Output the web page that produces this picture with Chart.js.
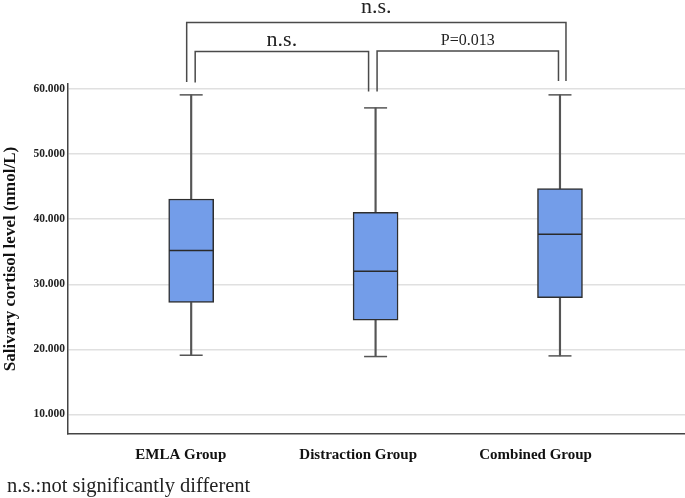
<!DOCTYPE html>
<html>
<head>
<meta charset="utf-8">
<script src="https://cdn.jsdelivr.net/npm/chart.js@4.4.0/dist/chart.umd.min.js"></script>
<style>
  html, body { margin: 0; padding: 0; background: #ffffff; }
  #wrap { position: relative; width: 685px; height: 498px; }
  #foot { position: absolute; left: 7px; top: 475px; font-family: 'Liberation Serif', serif; font-size: 20.5px; line-height: 20px; color: #222; white-space: nowrap; }
</style>
</head>
<body>
<div id="wrap">
  <canvas id="c" width="685" height="498"></canvas>
  <div id="foot">n.s.:not significantly different</div>
</div>
<script>
// ---- data ----
const categories  = ['EMLA Group', 'Distraction Group', 'Combined Group'];
const whiskerMin  = [19.1, 18.9, 19.0];
const q1          = [27.2, 24.5, 27.95];
const median      = [35.2, 32.0, 37.7];
const q3          = [43.1, 41.05, 44.7];
const whiskerMax  = [59.1, 57.1, 59.1];
const yTicks      = [10, 20, 30, 40, 50, 60];
const comparisons = [
  { from: 0, to: 2, label: 'n.s.' },
  { from: 0, to: 1, label: 'n.s.' },
  { from: 1, to: 2, label: 'P=0.013' }
];

const pos = categories.map((c, i) => i + 1);
const SERIF = "'Liberation Serif', 'Times New Roman', serif";

const boxes = pos.map((p, i) => ({ x: p, y: [q1[i], q3[i]] }));
const upperWhisk = pos.map((p, i) => ({ x: p, y: [q3[i], whiskerMax[i]] }));
const lowerWhisk = pos.map((p, i) => ({ x: p, y: [whiskerMin[i], q1[i]] }));
const caps = pos.flatMap((p, i) => [{ x: p, y: whiskerMax[i] }, { x: p, y: whiskerMin[i] }]);
const meds = pos.map((p, i) => ({ x: p, y: median[i] }));

const bracketPlugin = {
  id: 'brackets',
  afterDraw(chart) {
    const ctx = chart.ctx;
    const xs = chart.scales.x;
    const cx = i => xs.getPixelForValue(pos[i]);
    // geometry per comparison: [leftOffset, rightOffset, barY, leftLegEnd, rightLegEnd, textY, fontSize]
    const geo = [
      [-4.5, 6, 22.5, 82, 81, 12.7, 22],
      [4, -7, 51.5, 82.5, 91.5, 46, 22],
      [1.5, -1.5, 51, 91.5, 81, 45, 16]
    ];
    ctx.save();
    ctx.strokeStyle = '#4a4a4a';
    ctx.lineWidth = 1.5;
    ctx.fillStyle = '#222';
    comparisons.forEach((cmp, k) => {
      const g = geo[k];
      const xl = cx(cmp.from) + g[0];
      const xr = cx(cmp.to) + g[1];
      ctx.beginPath();
      ctx.moveTo(xl, g[3]);
      ctx.lineTo(xl, g[2]);
      ctx.lineTo(xr, g[2]);
      ctx.lineTo(xr, g[4]);
      ctx.stroke();
      ctx.font = g[6] + 'px ' + SERIF;
      ctx.textAlign = 'center';
      ctx.textBaseline = 'alphabetic';
      ctx.fillText(cmp.label, (xl + xr) / 2, g[5]);
    });
    ctx.restore();
  }
};

function noPad(s) { s.paddingLeft = 0; s.paddingRight = 0; }

new Chart(document.getElementById('c'), {
  type: 'bar',
  data: {
    datasets: [
      { type: 'bar', data: upperWhisk, grouped: false, barThickness: 1.5, backgroundColor: '#555', borderWidth: 0, order: 5 },
      { type: 'bar', data: lowerWhisk, grouped: false, barThickness: 1.5, backgroundColor: '#555', borderWidth: 0, order: 5 },
      { type: 'bar', data: boxes, grouped: false, barThickness: 45, backgroundColor: '#739DE9', borderColor: '#2e2e2e', borderWidth: 1.5, borderSkipped: false, order: 3 },
      { type: 'scatter', data: caps, pointStyle: 'line', radius: 11.5, borderColor: '#555', borderWidth: 1.5, order: 1 },
      { type: 'scatter', data: meds, pointStyle: 'line', radius: 22, borderColor: '#2a2a2a', borderWidth: 1.5, order: 0 }
    ]
  },
  options: {
    responsive: false,
    animation: false,
    devicePixelRatio: 1,
    events: [],
    layout: { autoPadding: false, padding: { top: 84, left: 0, right: 0, bottom: 0 } },
    plugins: { legend: { display: false }, tooltip: { enabled: false } },
    scales: {
      x: {
        type: 'linear', position: 'bottom', min: 0.332, max: 3.678, offset: false,
        grid: { display: false, offset: false },
        ticks: { display: false },
        border: { display: true, color: '#444', width: 1.5 },
        afterFit(s) { s.height = 0; noPad(s); }
      },
      x2: {
        type: 'linear', position: 'bottom', min: 0.3645, max: 3.842, offset: false,
        grid: { display: false, offset: false },
        border: { display: false },
        afterBuildTicks(s) { s.ticks = pos.map(v => ({ value: v })); },
        ticks: {
          padding: 4, color: '#111', maxRotation: 0, autoSkip: false,
          font: { family: SERIF, size: 15, weight: 'bold' },
          callback: v => categories[v - 1]
        },
        afterFit(s) { s.height = 64; noPad(s); }
      },
      y: {
        type: 'linear', min: 7, max: 60.77,
        afterBuildTicks(s) { s.ticks = yTicks.map(v => ({ value: v })); },
        grid: { color: '#e0e0e0', lineWidth: 1.5, drawTicks: false },
        border: { display: true, color: '#444', width: 1.5 },
        ticks: {
          padding: 3, color: '#222',
          font: { family: SERIF, size: 11.5, weight: 'bold' },
          callback: v => v.toFixed(3)
        },
        title: {
          display: true, text: 'Salivary cortisol level (nmol/L)', color: '#111',
          font: { family: SERIF, size: 17, weight: 'bold' },
          padding: { top: 0, bottom: 0 }
        },
        afterFit(s) { s.width = 68; s.paddingTop = 0; s.paddingBottom = 0; }
      }
    }
  },
  plugins: [bracketPlugin]
});
</script>
</body>
</html>
